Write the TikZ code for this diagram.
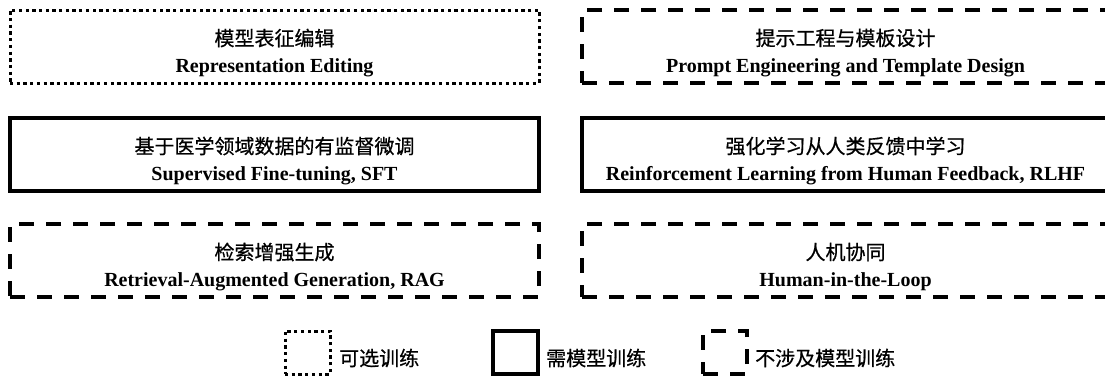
\documentclass[tikz,border=0pt]{standalone}
\usepackage{fontspec}
\usetikzlibrary{calc}
\setmainfont{Liberation Serif}
\newfontfamily\cjk[FakeBold=0.6]{Noto Sans CJK SC}
\tikzset{
  frame/.style={rectangle, draw=black, inner sep=0pt, outer sep=0pt, anchor=north west, minimum height=73pt},
  solidbox/.style={frame, line width=3.2pt},
  dashbox/.style={frame, line width=3.4pt, dash pattern=on 15pt off 12pt},
  dotbox/.style={frame, line width=3pt, dash pattern=on 3.3pt off 3.4pt},
  cntext/.style={inner sep=0pt, font=\cjk\fontsize{20pt}{24pt}\selectfont},
  entext/.style={inner sep=0pt, anchor=base, font=\bfseries\fontsize{20pt}{24pt}\selectfont},
  legtext/.style={inner sep=0pt, anchor=west, font=\cjk\fontsize{20pt}{24pt}\selectfont}
}
\begin{document}
\begin{tikzpicture}[x=1pt,y=-1pt]
\clip (0,0) rectangle (1105,376);
\node[dotbox, minimum width=529pt] (b1) at (10,10) {};
\node[dashbox, minimum width=527pt] (b2) at (582,10) {};
\node[solidbox, minimum width=529pt] (b3) at (10,118) {};
\node[solidbox, minimum width=527pt] (b4) at (582,118) {};
\node[dashbox, minimum width=529pt] (b5) at (10,224) {};
\node[dashbox, minimum width=527pt] (b6) at (582,224) {};
\node[cntext] (c1) at ($(b1.north)+(0,28)$) {模型表征编辑};
\node[entext] (e1) at ($(b1.north)+(0,62)$) {Representation Editing};
\node[cntext] (c2) at ($(b2.north)+(0,28)$) {提示工程与模板设计};
\node[entext] (e2) at ($(b2.north)+(0,62)$) {Prompt Engineering and Template Design};
\node[cntext] (c3) at ($(b3.north)+(0,28)$) {基于医学领域数据的有监督微调};
\node[entext] (e3) at ($(b3.north)+(0,62)$) {Supervised Fine-tuning, SFT};
\node[cntext] (c4) at ($(b4.north)+(0,28)$) {强化学习从人类反馈中学习};
\node[entext] (e4) at ($(b4.north)+(0,62)$) {Reinforcement Learning from Human Feedback, RLHF};
\node[cntext] (c5) at ($(b5.north)+(0,28)$) {检索增强生成};
\node[entext] (e5) at ($(b5.north)+(0,62)$) {Retrieval-Augmented Generation, RAG};
\node[cntext] (c6) at ($(b6.north)+(0,28)$) {人机协同};
\node[entext] (e6) at ($(b6.north)+(0,62)$) {Human-in-the-Loop};
\node[dotbox, minimum width=45pt, minimum height=43pt] (l1) at (285,331) {};
\node[legtext] (lt1) at (339,358) {可选训练};
\node[solidbox, minimum width=45pt, minimum height=43pt] (l2) at (493,331) {};
\node[legtext] (lt2) at (546,358) {需模型训练};
\node[dashbox, minimum width=44pt, minimum height=43pt] (l3) at (703,331) {};
\node[legtext] (lt3) at (755,358) {不涉及模型训练};
\end{tikzpicture}
\end{document}
